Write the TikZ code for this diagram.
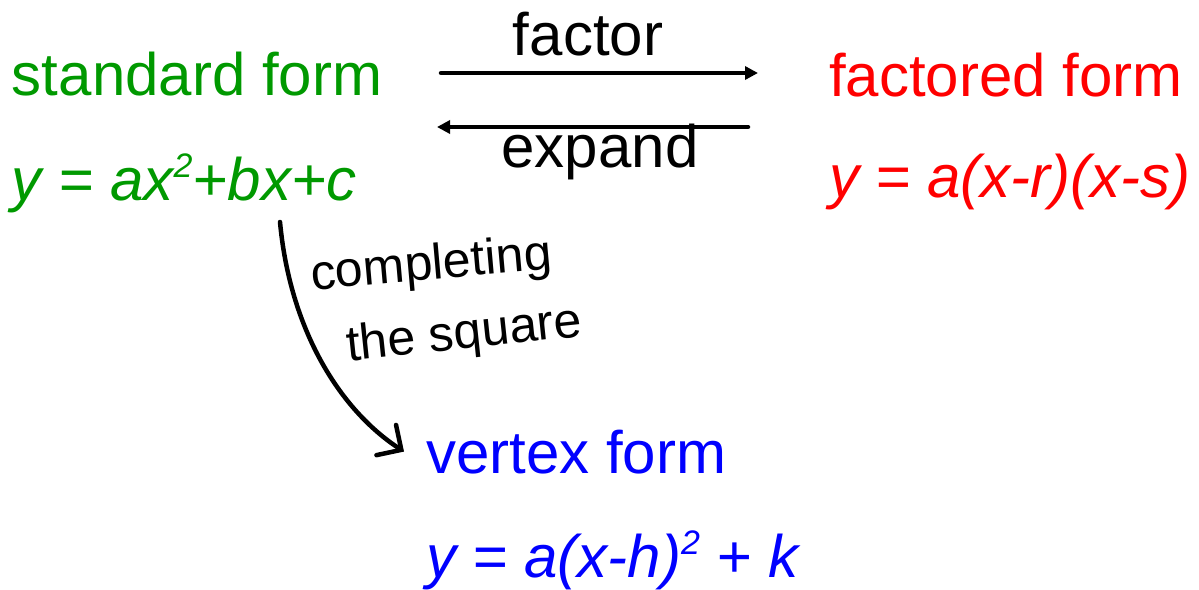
\documentclass[tikz,border=0pt]{standalone}
\usepackage{fontspec}
\setmainfont{Liberation Sans}
\usetikzlibrary{arrows.meta}
\definecolor{stdgreen}{RGB}{0,153,0}
\definecolor{facred}{RGB}{255,0,0}
\definecolor{vtxblue}{RGB}{0,0,255}
\newcommand{\sqsup}{\raisebox{23pt}{\fontsize{34}{40}\selectfont 2}}
\begin{document}
\begin{tikzpicture}[x=1pt,y=-1pt,
  big/.style={inner sep=0pt,outer sep=0pt,anchor=base west,font=\fontsize{60}{70}\selectfont},
  lbl/.style={inner sep=0pt,outer sep=0pt,anchor=base,font=\fontsize{60}{70}\selectfont},
  hand/.style={inner sep=0pt,outer sep=0pt,anchor=base west,font=\fontsize{50}{60}\selectfont},
  conv/.style={line width=4.5pt,line cap=round,-{Triangle[length=13pt,width=13pt]}},
  handarrow/.style={line width=4.5pt,line cap=round,line join=round,
     -{Straight Barb[length=18pt,width=36pt,line cap=round]}}]
\useasboundingbox (0,0) rectangle (1199,589);
% texts
\node[big,text=stdgreen] (std) at (12,95) {standard form};
\node[big,text=stdgreen] (stdeq) at (12,200) {\itshape y = ax\sqsup+bx+c};
\node[big,text=facred] (fac) at (829,96) {factored form};
\node[big,text=facred] (faceq) at (829,197) {\itshape y = a(x-r)(x-s)};
\node[big,text=vtxblue] (vtx) at (426,473) {vertex form};
\node[big,text=vtxblue] (vtxeq) at (426,577) {\itshape y = a(x-h)\sqsup{} + k};
\node[lbl] (factor) at (588,55) {factor};
\node[lbl] (expand) at (600,167) {expand};
\node[hand,rotate=5] (comp) at (312,290) {completing};
\node[hand,rotate=6] (sq) at (348,361) {the square};
% connectors
\coordinate (f1) at (441,73);
\coordinate (f2) at (758,73);
\coordinate (e1) at (748,127);
\coordinate (e2) at (437,127);
\draw[conv] (f1) -- (f2);
\draw[conv] (e1) -- (e2);
\coordinate (cs) at (280,222);
\draw[handarrow] (cs) .. controls (290,330) and (340,410) .. ([xshift=-22pt]vtx.west);
\end{tikzpicture}
\end{document}
